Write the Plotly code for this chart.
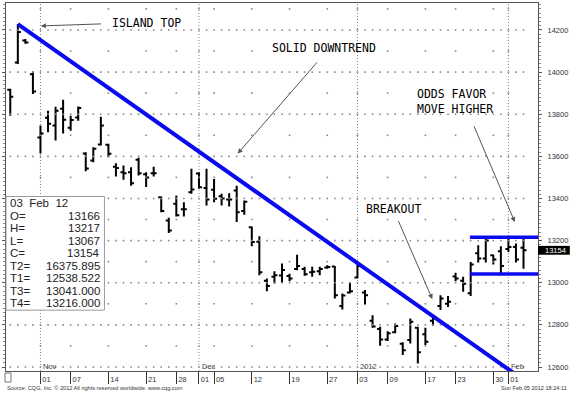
import plotly.graph_objects as go

# ---------------- data ----------------
dates = [
    "2011-10-26", "2011-10-27", "2011-10-28", "2011-10-31",
    "2011-11-01", "2011-11-02", "2011-11-03", "2011-11-04", "2011-11-07", "2011-11-08",
    "2011-11-09", "2011-11-10", "2011-11-11", "2011-11-14", "2011-11-15", "2011-11-16",
    "2011-11-17", "2011-11-18", "2011-11-21", "2011-11-22", "2011-11-23", "2011-11-25",
    "2011-11-28", "2011-11-29", "2011-11-30",
    "2011-12-01", "2011-12-02", "2011-12-05", "2011-12-06", "2011-12-07", "2011-12-08",
    "2011-12-09", "2011-12-12", "2011-12-13", "2011-12-14", "2011-12-15", "2011-12-16",
    "2011-12-19", "2011-12-20", "2011-12-21", "2011-12-22", "2011-12-23", "2011-12-27",
    "2011-12-28", "2011-12-29", "2011-12-30",
    "2012-01-03", "2012-01-04", "2012-01-05", "2012-01-06", "2012-01-09", "2012-01-10",
    "2012-01-11", "2012-01-12", "2012-01-13", "2012-01-17", "2012-01-18", "2012-01-19",
    "2012-01-20", "2012-01-23", "2012-01-24", "2012-01-25", "2012-01-26", "2012-01-27",
    "2012-01-30", "2012-01-31",
    "2012-02-01", "2012-02-02", "2012-02-03",
]
opens = [13916, 14045, 14150, 13990,
         13689, 13783, 13746, 13826, 13736, 13785, 13613, 13580, 13656, 13655, 13551, 13524,
         13524, 13584, 13515, 13520, 13406, 13296, 13375, 13349, 13430,
         13519, 13450, 13441, 13410, 13395, 13438, 13340, 13264, 13195, 13010, 13028, 13034,
         13032, 13065, 13065, 13050, 13055, 13072, 13077, 12890, 12954,
         13025, 12954, 12820, 12780, 12730, 12765, 12710, 12728, 12786, 12755, 12820, 12890,
         12900, 13030, 13010, 12950, 13140, 13115, 13130, 13150,
         13160, 13170, 13166]
highs = [13921, 14228, 14157, 14003,
         13746, 13817, 13836, 13869, 13793, 13837, 13619, 13643, 13788, 13660, 13567, 13556,
         13548, 13593, 13524, 13551, 13409, 13309, 13414, 13382, 13541,
         13524, 13541, 13493, 13422, 13425, 13461, 13390, 13267, 13221, 13020, 13054, 13091,
         13043, 13133, 13076, 13076, 13076, 13083, 13080, 12949, 13001,
         13086, 12965, 12846, 12791, 12770, 12807, 12717, 12830, 12791, 12786, 12848, 12941,
         12937, 13047, 13028, 13099, 13178, 13217, 13133, 13173,
         13210, 13186, 13217]
lows = [13793, 14039, 14134, 13896,
        13614, 13714, 13675, 13708, 13722, 13769, 13529, 13572, 13651, 13596, 13504, 13489,
        13460, 13509, 13454, 13504, 13335, 13236, 13315, 13315, 13422,
        13446, 13367, 13382, 13367, 13362, 13288, 13323, 13173, 13036, 12960, 12996, 12999,
        13007, 13059, 13033, 13028, 13036, 13067, 12925, 12873, 12949,
        13020, 12897, 12786, 12701, 12723, 12760, 12657, 12712, 12617, 12704, 12796, 12870,
        12885, 13007, 12957, 12937, 13096, 13096, 13086, 13036,
        13146, 13096, 13067]
closes = [13883, 14190, 14140, 13908,
          13708, 13755, 13817, 13774, 13773, 13829, 13542, 13636, 13746, 13612, 13545, 13520,
          13472, 13520, 13500, 13520, 13340, 13248, 13320, 13349, 13443,
          13453, 13395, 13399, 13400, 13395, 13335, 13385, 13193, 13050, 12985, 13036, 13060,
          13020, 13080, 13040, 13052, 13065, 13075, 12941, 12940, 12960,
          13080, 12941, 12792, 12730, 12760, 12795, 12680, 12815, 12670, 12720, 12833, 12925,
          12910, 13020, 12995, 13086, 13115, 13200, 13110, 13080,
          13170, 13110, 13154]

# down-trend line (from the island-top high to the T1 value on the last bar)
trend_dates = ["2011-10-27", "2012-02-03"]
trend_values = [14228, 12538.522]
T2_value = 16375.895
# range lines T3 / T4, starting on Jan 25
range_start = "2012-01-25"
T3_value = 13041.0
T4_value = 13216.0

tick_dates = ["2011-11-01", "2011-11-07", "2011-11-14", "2011-11-21", "2011-11-28",
              "2011-12-01", "2011-12-05", "2011-12-12", "2011-12-19", "2011-12-27",
              "2012-01-03", "2012-01-09", "2012-01-17", "2012-01-23", "2012-01-30",
              "2012-02-01"]
tick_labels = ["01", "07", "14", "21", "28", "01", "05", "12", "19", "27",
               "03", "09", "17", "23", "30", "01"]
month_dates = ["2011-11-01", "2011-12-01", "2012-01-03", "2012-02-01"]
month_labels = ["Nov", "Dec", "2012", "Feb"]
price_levels = [12600, 12800, 13000, 13200, 13400, 13600, 13800, 14000, 14200]
half_levels = [12700, 12900, 13100, 13300, 13500, 13700, 13900, 14100, 14300]

# ---------------- derived ----------------
xi = list(range(len(dates)))
pos = {d: i for i, d in enumerate(dates)}
tick_pos = [pos[d] for d in tick_dates]
month_pos = [pos[d] for d in month_dates]
X_RANGE = [-0.567, 69.92]
Y_RANGE = [12581, 14328]

FONT = "Liberation Sans, Arial, sans-serif"
MONO = "DejaVu Sans Mono, monospace"
BLUE = "#0a0af0"

fig = go.Figure()

# dotted grid: dots at every bar on 200-levels, dots at weekly ticks on 100-levels
gx, gy = [], []
for lv in price_levels:
    for i in xi:
        gx.append(i); gy.append(lv)
for lv in half_levels:
    for t in tick_pos:
        gx.append(t); gy.append(lv)
fig.add_trace(go.Scatter(x=gx, y=gy, mode="markers",
                         marker=dict(symbol="square", size=1.6, color="#8a8a8a", line=dict(width=0)),
                         hoverinfo="skip", showlegend=False))

# trend line
fig.add_trace(go.Scatter(x=[pos[d] for d in trend_dates], y=trend_values, mode="lines",
                         line=dict(color=BLUE, width=4), hoverinfo="skip", showlegend=False))
# range lines
for lv in (T4_value, T3_value):
    fig.add_trace(go.Scatter(x=[pos[range_start] - 0.1, X_RANGE[1] + 1], y=[lv, lv], mode="lines",
                             line=dict(color=BLUE, width=3.5), hoverinfo="skip", showlegend=False))

# OHLC bars
fig.add_trace(go.Ohlc(x=xi, open=opens, high=highs, low=lows, close=closes,
                      increasing=dict(line=dict(color="black", width=2)),
                      decreasing=dict(line=dict(color="black", width=2)),
                      tickwidth=0.4, hoverinfo="skip", showlegend=False))

shapes = []
# month separator lines
for m in month_pos:
    shapes.append(dict(type="line", xref="x", yref="paper", x0=m, x1=m, y0=0, y1=1,
                       line=dict(color="#8a8a8a", width=1, dash="1px,2px"), layer="below"))

def pxx(x):
    return (x - 3) / 535.0

def pxy(y):
    return (371 - y) / 369.0

# info box
shapes.append(dict(type="rect", xref="paper", yref="paper", x0=pxx(3), x1=pxx(102),
                   y0=pxy(310), y1=pxy(196), line=dict(color="#999999", width=1),
                   fillcolor="white", layer="above"))
# current price box
shapes.append(dict(type="rect", xref="paper", yref="y", x0=1.0, x1=pxx(570),
                   y0=closes[-1] - 21, y1=closes[-1] + 21, line=dict(width=0),
                   fillcolor="black"))
# small square bottom-left
shapes.append(dict(type="rect", xref="paper", yref="paper", x0=pxx(2), x1=pxx(8),
                   y0=pxy(382), y1=pxy(373), line=dict(color="#777777", width=1)))

ann = []
# month labels
for m, lab in zip(month_pos, month_labels):
    ann.append(dict(x=m, y=pxy(366), xref="x", yref="paper", text=lab, showarrow=False,
                    xanchor="left", yanchor="middle", xshift=1,
                    font=dict(family=FONT, size=7.5, color="#444")))

# info box contents
info_labels = ["O=", "H=", "L=", "C=", "T2=", "T1=", "T3=", "T4="]
info_values = [str(opens[-1]), str(highs[-1]), str(lows[-1]), str(closes[-1]),
               f"{T2_value:.3f}", f"{trend_values[-1]:.3f}", f"{T3_value:.3f}", f"{T4_value:.3f}"]
row_y = [203, 215.5, 228, 240.5, 253, 265.5, 278, 290.5, 303]
ann.append(dict(x=pxx(5), y=pxy(row_y[0]), xref="paper", yref="paper", text="03  Feb  12",
                showarrow=False, xanchor="left", yanchor="middle",
                font=dict(family=FONT, size=11.5, color="#222")))
for k, (lab, val) in enumerate(zip(info_labels, info_values)):
    yy = pxy(row_y[k + 1])
    ann.append(dict(x=pxx(5), y=yy, xref="paper", yref="paper", text=lab, showarrow=False,
                    xanchor="left", yanchor="middle", font=dict(family=FONT, size=11.5, color="#222")))
    ann.append(dict(x=pxx(100), y=yy, xref="paper", yref="paper", text=val, showarrow=False,
                    xanchor="right", yanchor="middle", font=dict(family=FONT, size=11.5, color="#222")))

# current price label
ann.append(dict(x=pxx(556), y=closes[-1], xref="paper", yref="y", text=str(closes[-1]),
                showarrow=False, xanchor="center", yanchor="middle",
                font=dict(family=FONT, size=7.5, color="white")))

# chart commentary texts
txt_font = dict(family=MONO, size=11.5, color="black")
ann.append(dict(x=13.27, y=14233, text="ISLAND TOP", showarrow=False, xanchor="left",
                yanchor="middle", font=txt_font))
ann.append(dict(x=41.53, y=14115, text="SOLID DOWNTREND", showarrow=False, xanchor="center",
                yanchor="middle", font=txt_font))
ann.append(dict(x=50.75, y=13350, text="BREAKOUT", showarrow=False, xanchor="center",
                yanchor="middle", font=txt_font))
ann.append(dict(x=53.58, y=13861, text="ODDS FAVOR<br>MOVE HIGHER", showarrow=False,
                xanchor="left", yanchor="middle", align="left", font=txt_font))

# arrows (head x,y ; tail ax,ay)
arrows = [
    (4.05, 14219, 12.21, 14229),
    (30.13, 13613, 40.80, 14053),
    (55.92, 12922, 51.34, 13300),
    (66.85, 13288, 61.36, 13750),
]
for hx, hy, tx, ty in arrows:
    ann.append(dict(x=hx, y=hy, ax=tx, ay=ty, xref="x", yref="y", axref="x", ayref="y",
                    text="", showarrow=True, arrowhead=2, arrowsize=1, arrowwidth=1,
                    arrowcolor="#555555", standoff=0))

# footer
ann.append(dict(x=pxx(2), y=pxy(388), xref="paper", yref="paper",
                text="Source: CQG, Inc. © 2012 All rights reserved worldwide. www.cqg.com",
                showarrow=False, xanchor="left", yanchor="middle",
                font=dict(family=FONT, size=5.6, color="#333")))
ann.append(dict(x=pxx(569), y=pxy(388), xref="paper", yref="paper",
                text="Sun Feb 05 2012 18:24:11", showarrow=False, xanchor="right",
                yanchor="middle", font=dict(family=FONT, size=5.6, color="#333")))

fig.update_layout(
    width=570, height=394,
    margin=dict(l=3, r=32, t=2, b=23),
    paper_bgcolor="white", plot_bgcolor="white",
    showlegend=False,
    shapes=shapes, annotations=ann,
    xaxis=dict(range=X_RANGE, tickmode="array", tickvals=tick_pos, ticktext=tick_labels,
               ticks="outside", ticklen=12, tickwidth=1, tickcolor="#333",
               tickfont=dict(family=FONT, size=7.5, color="#333"),
               ticklabelstandoff=-11, ticklabelshift=6,
               showgrid=False, zeroline=False, showline=True, linecolor="#555",
               linewidth=1, mirror=True, rangeslider=dict(visible=False), fixedrange=True),
    yaxis=dict(side="right", range=Y_RANGE, tickmode="array", tickvals=price_levels,
               ticktext=[str(v) for v in price_levels],
               ticks="outside", ticklen=3, tickcolor="#555",
               tickfont=dict(family=FONT, size=7.5, color="#333"),
               ticklabelstandoff=4,
               minor=dict(dtick=20, tick0=12600, ticks="outside", ticklen=2, tickcolor="#888"),
               showgrid=False, zeroline=False, showline=True, linecolor="#555",
               linewidth=1, mirror="allticks", fixedrange=True),
)

fig.write_html("out.html", config={"displayModeBar": False},
               post_script="document.body.style.margin='0';document.body.style.padding='0';"
                           "document.documentElement.style.overflow='hidden';")
